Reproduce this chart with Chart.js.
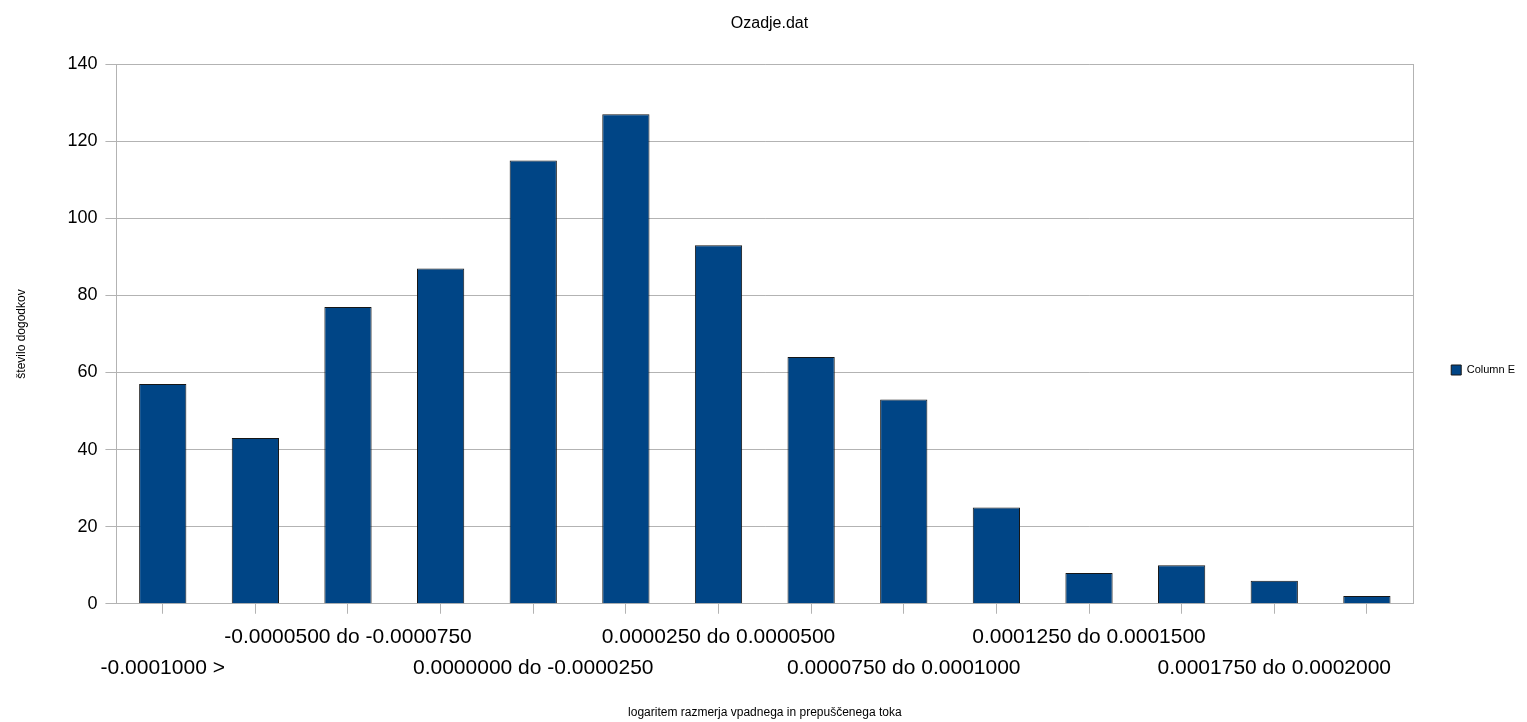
<!DOCTYPE html>
<html>
<head>
<meta charset="utf-8">
<script src="https://cdn.jsdelivr.net/npm/chart.js@4"></script>
<style>
  html, body { margin: 0; padding: 0; background: #fff; }
  #wrap { width: 1527px; height: 722px; }
</style>
</head>
<body>
<div id="wrap"><canvas id="chart" width="1527" height="722"></canvas></div>
<script>
const categories = [
    "-0.0001000 >",
    "-0.0000750 do -0.0001000",
    "-0.0000500 do -0.0000750",
    "-0.0000250 do -0.0000500",
    "0.0000000 do -0.0000250",
    "0.0000000 do 0.0000250",
    "0.0000250 do 0.0000500",
    "0.0000500 do 0.0000750",
    "0.0000750 do 0.0001000",
    "0.0001000 do 0.0001250",
    "0.0001250 do 0.0001500",
    "0.0001500 do 0.0001750",
    "0.0001750 do 0.0002000",
    "0.0002000 <"
];
const columnE = [57, 43, 77, 87, 115, 127, 93, 64, 53, 25, 8, 10, 6, 2];

const font = "'Liberation Sans', Arial, sans-serif";

const ctx = document.getElementById('chart').getContext('2d');
new Chart(ctx, {
    type: 'bar',
    data: {
        labels: categories,
        datasets: [{
            label: 'Column E',
            data: columnE,
            backgroundColor: '#004586',
            borderColor: '#161616',
            borderWidth: 1,
            barPercentage: 0.51,
            categoryPercentage: 1
        }]
    },
    options: {
        responsive: false,
        animation: false,
        layout: { padding: { top: 0, right: 2, bottom: 2, left: 14 } },
        plugins: {
            title: {
                display: true,
                text: 'Ozadje.dat',
                color: '#000',
                font: { family: font, size: 16, weight: 'normal' },
                padding: { top: 14, bottom: 31 }
            },
            legend: {
                position: 'right',
                // blank title only pushes the entry down a little
                title: { display: true, text: ' ', font: { size: 10 }, padding: { top: 4, bottom: 4 } },
                labels: {
                    color: '#000',
                    boxWidth: 10,
                    boxHeight: 10,
                    padding: 4,
                    font: { family: font, size: 11 }
                }
            },
            tooltip: { enabled: false }
        },
        scales: {
            x: {
                grid: { drawOnChartArea: false, offset: false, color: '#b3b3b3', tickLength: 10 },
                border: { color: '#b3b3b3' },
                ticks: {
                    autoSkip: false,
                    maxRotation: 0,
                    color: '#000',
                    padding: 7,
                    font: { family: font, size: 21, lineHeight: 1.52 },
                    callback: (v, i) => {
                        if (i % 2) return '';
                        return (i / 2) % 2 ? [categories[i], ''] : ['', categories[i]];
                    }
                },
                title: {
                    display: true,
                    text: 'logaritem razmerja vpadnega in prepuščenega toka',
                    color: '#000',
                    font: { family: font, size: 12 },
                    padding: { top: 14, bottom: 0 }
                }
            },
            y: {
                min: 0,
                max: 140,
                grid: { color: '#b3b3b3', tickLength: 11 },
                border: { color: '#b3b3b3' },
                ticks: {
                    stepSize: 20,
                    color: '#000',
                    padding: 8,
                    font: { family: font, size: 18 }
                },
                title: {
                    display: true,
                    text: 'število dogodkov',
                    color: '#000',
                    font: { family: font, size: 12 },
                    padding: { top: 0, bottom: 31 }
                }
            },
            // empty right axis: closes the frame and leaves the gap before the legend
            yRight: {
                position: 'right',
                min: 0,
                max: 140,
                grid: { drawOnChartArea: false, drawTicks: false },
                border: { color: '#b3b3b3' },
                ticks: { display: false },
                afterFit: scale => { scale.width = 34; }
            }
        }
    }
});
</script>
</body>
</html>
